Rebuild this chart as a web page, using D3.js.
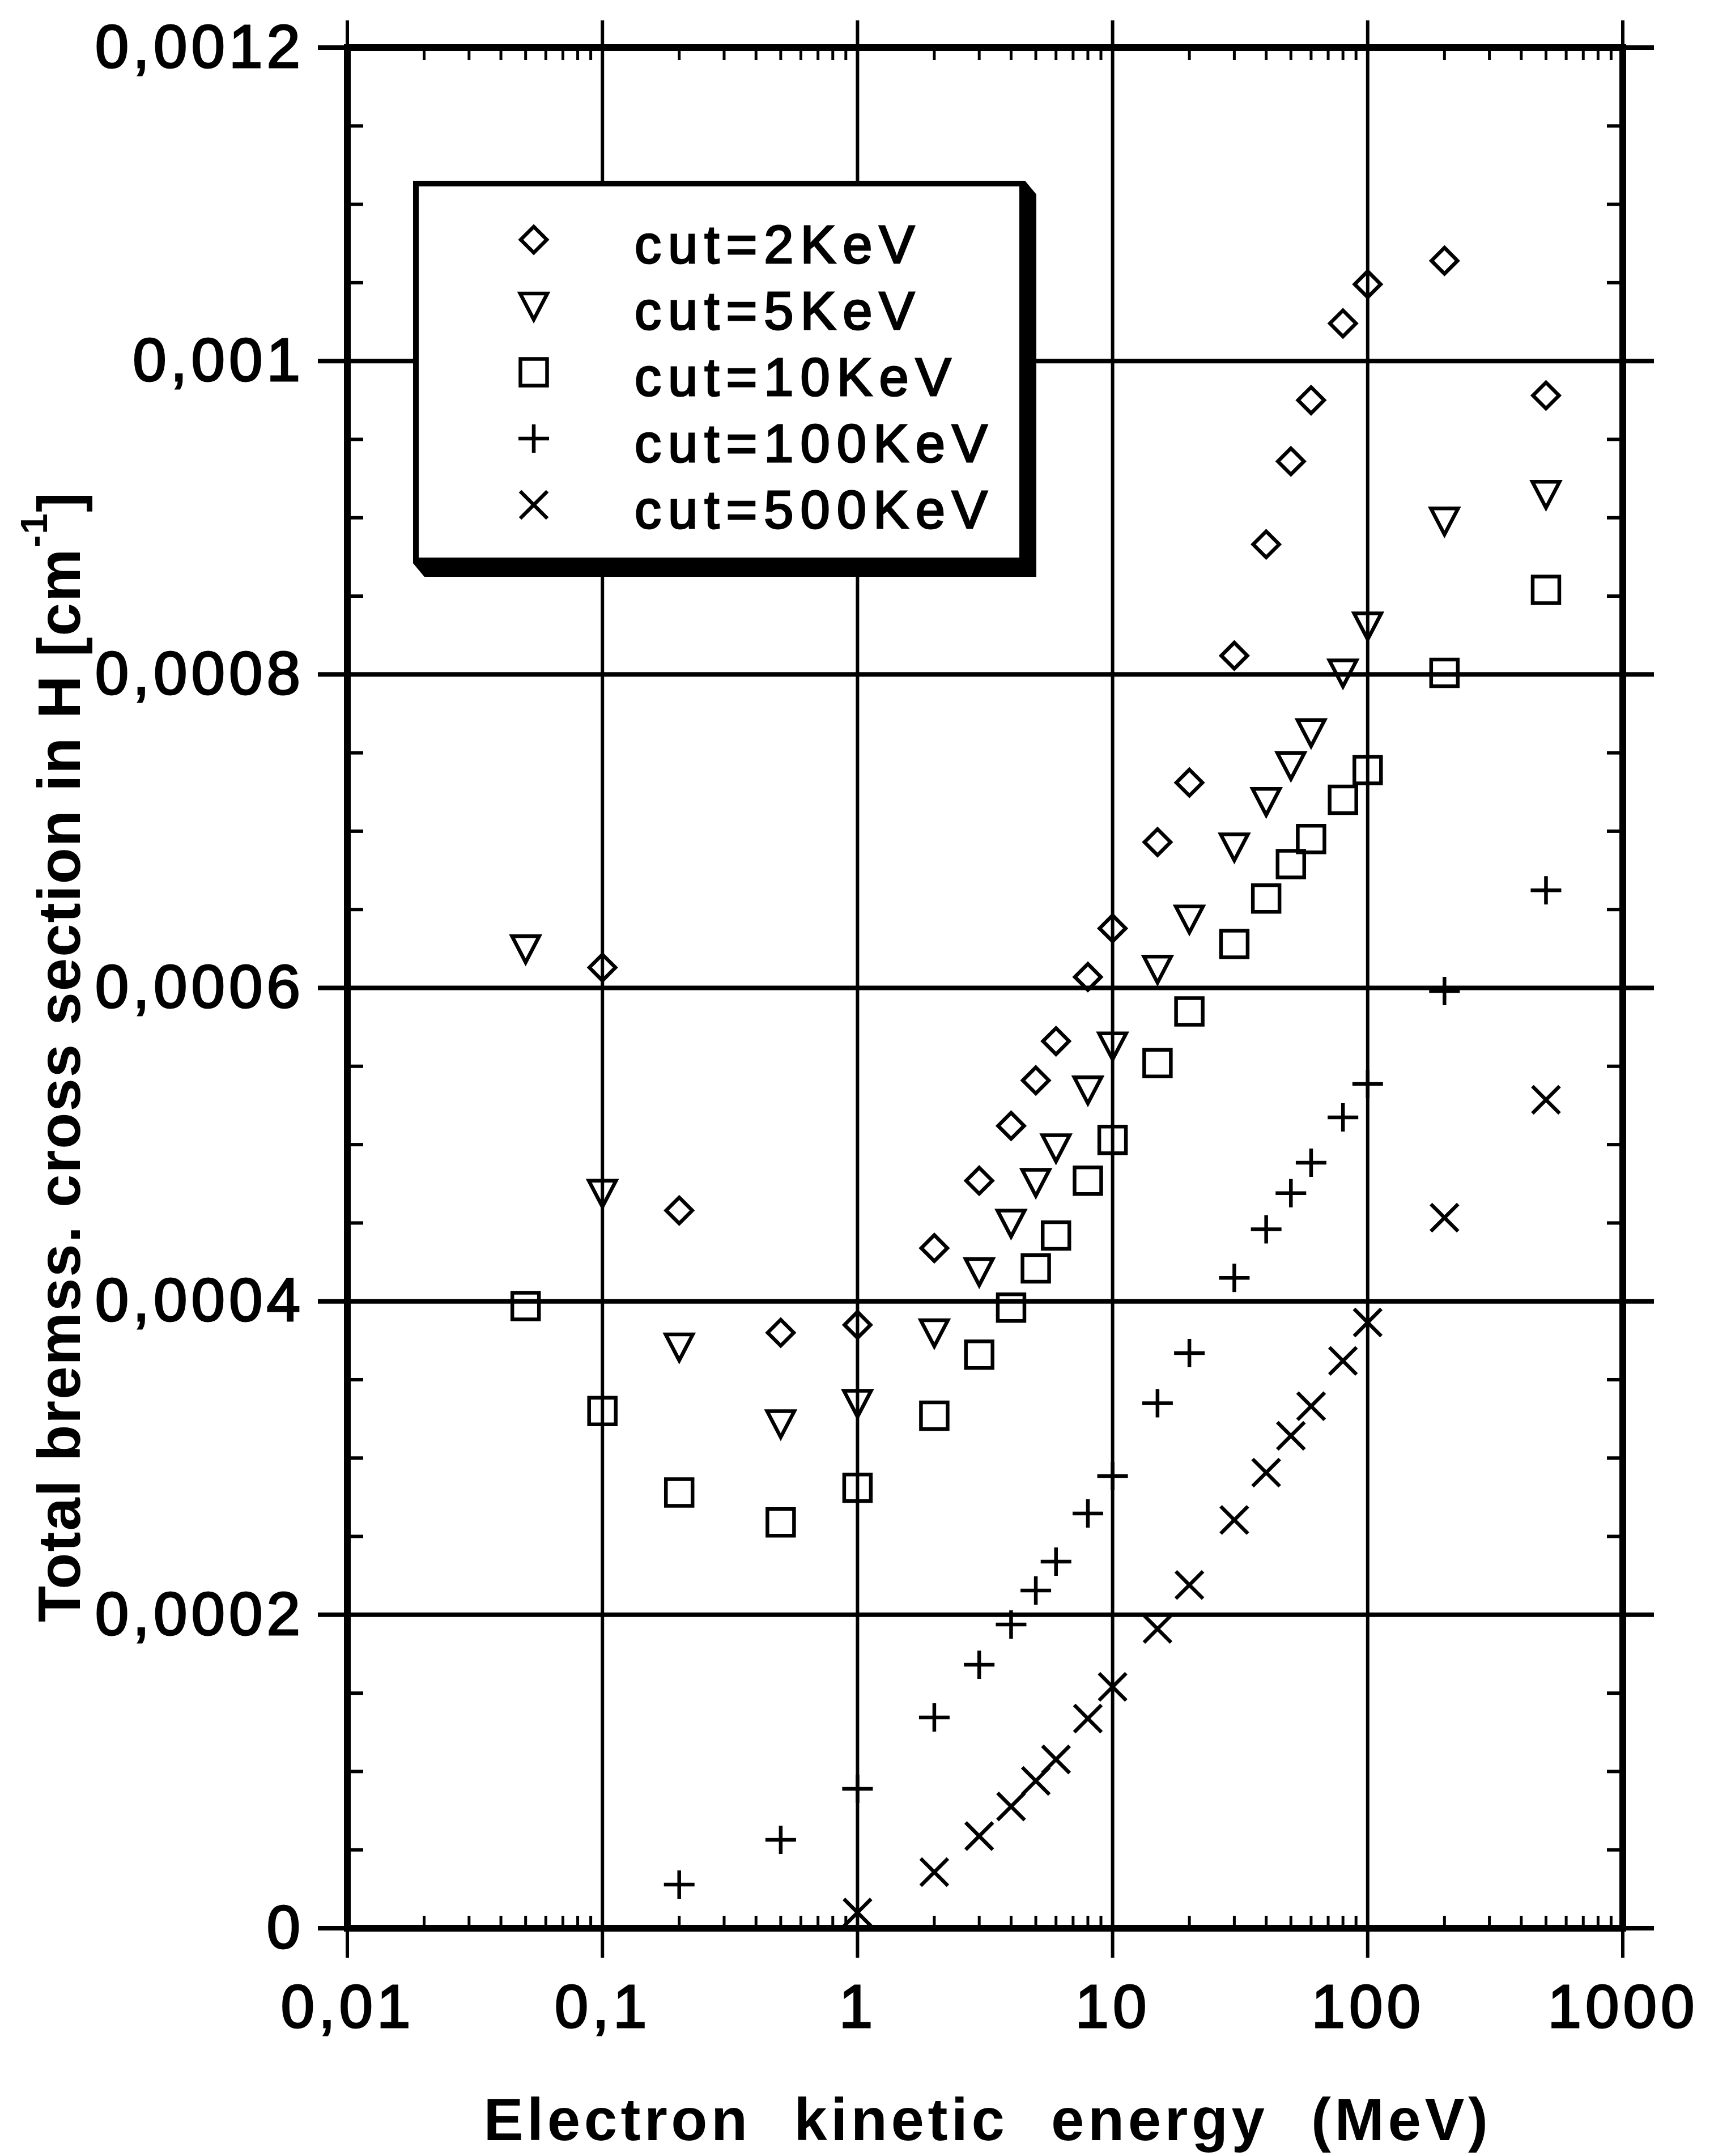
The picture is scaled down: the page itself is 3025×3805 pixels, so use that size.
<!DOCTYPE html>
<html>
<head>
<meta charset="utf-8">
<script src="https://cdn.jsdelivr.net/npm/d3@7"></script>
<style>
  body { margin: 0; background: #fff; }
  text { font-family: "Liberation Sans", Arial, Helvetica, sans-serif; fill: #000; }
</style>
</head>
<body>
<svg></svg>
<script>
// Electron kinetic energies (MeV) at which the cross sections were computed
const energies = [0.05, 0.1, 0.2, 0.5, 1, 2, 3, 4, 5, 6, 8, 10, 15, 20, 30, 40, 50, 60, 80, 100, 200, 500];

// Total bremsstrahlung cross section in H [cm^-1], one array per cut
const cut2Energy = energies.slice(1);
const cut2Values = [0.000613, 0.000458, 0.000380, 0.000385, 0.000434, 0.000477, 0.000512, 0.000541, 0.000566, 0.000607,
  0.000638, 0.000693, 0.000731, 0.000812, 0.000883, 0.000936, 0.000975, 0.001024, 0.001049, 0.001064, 0.000978];

const cut5Energy = energies;
const cut5Values = [0.000625, 0.000469, 0.000371, 0.000322, 0.000335, 0.000380, 0.000419, 0.000450, 0.000476, 0.000498, 0.000535,
  0.000563, 0.000612, 0.000644, 0.000690, 0.000719, 0.000742, 0.000763, 0.000801, 0.000831, 0.000898, 0.000915];

const cut10Energy = energies;
const cut10Values = [0.000397, 0.000330, 0.000278, 0.000259, 0.000281, 0.000327, 0.000366, 0.000396, 0.000421, 0.000442, 0.000477,
  0.000503, 0.000552, 0.000585, 0.000628, 0.000657, 0.000679, 0.000695, 0.000720, 0.000739, 0.000801, 0.000854];

const cut100Energy = energies.slice(2);
const cut100Values = [0.0000278, 0.0000564, 0.0000889, 0.0001345, 0.0001681, 0.0001938, 0.0002155, 0.0002339, 0.0002647, 0.0002885,
  0.000335, 0.000367, 0.000415, 0.000446, 0.000469, 0.0004885, 0.0005174, 0.0005387, 0.000598, 0.0006623];

const cut500Energy = energies.slice(4);
const cut500Values = [0.0000100, 0.0000358, 0.0000588, 0.0000777, 0.0000940, 0.0001077, 0.0001338, 0.000154, 0.000191, 0.000219,
  0.0002605, 0.0002907, 0.0003142, 0.0003331, 0.000362, 0.0003865, 0.0004534, 0.0005286];

// Legend names and marker shapes
const seriesNames = ["cut=2KeV", "cut=5KeV", "cut=10KeV", "cut=100KeV", "cut=500KeV"];
const seriesShapes = ["diamond", "triangle", "square", "plus", "cross"];
const seriesEnergy = [cut2Energy, cut5Energy, cut10Energy, cut100Energy, cut500Energy];
const seriesValues = [cut2Values, cut5Values, cut10Values, cut100Values, cut500Values];

// Axis ticks
const xTickValues = [0.01, 0.1, 1, 10, 100, 1000];
const xTickLabels = ["0,01", "0,1", "1", "10", "100", "1000"];
const yTickValues = [0, 0.0002, 0.0004, 0.0006, 0.0008, 0.001, 0.0012];
const yTickLabels = ["0", "0,0002", "0,0004", "0,0006", "0,0008", "0,001", "0,0012"];

// SVG dimensions
const width = 3025;
const height = 3805;
const plotLeft = 613, plotRight = 2864, plotTop = 84, plotBottom = 3403;

const xScale = d3.scaleLog().domain([0.01, 1000]).range([plotLeft, plotRight]);
const yScale = d3.scaleLinear().domain([0, 0.0012]).range([plotBottom, plotTop]);

const svg = d3.select("svg")
  .attr("width", width)
  .attr("height", height)
  .attr("viewBox", [0, 0, width, height]);

// Minor ticks: log 2..9 on x, every 0.00005 on y
const xMinor = [];
for (let p = -2; p < 3; p++) {
  for (let k = 2; k < 10; k++) xMinor.push(k * Math.pow(10, p));
}
const yMinor = d3.range(0, 24).map(i => i * 0.00005).filter((v, i) => i % 4 !== 0);

const grid = svg.append("g").attr("stroke", "#000").attr("fill", "none");

// Horizontal grid lines, running a bit beyond the frame
grid.selectAll(".hgrid")
  .data(yTickValues)
  .enter()
  .append("line")
  .attr("x1", plotLeft - 52)
  .attr("x2", plotRight + 55)
  .attr("y1", d => yScale(d))
  .attr("y2", d => yScale(d))
  .attr("stroke-width", 8);

// Vertical grid lines at each decade
grid.selectAll(".vgrid")
  .data(xTickValues)
  .enter()
  .append("line")
  .attr("x1", d => xScale(d))
  .attr("x2", d => xScale(d))
  .attr("y1", plotTop - 48)
  .attr("y2", plotBottom + 52)
  .attr("stroke-width", 6);

// Minor ticks pointing inward on all four sides
grid.selectAll(".xminB")
  .data(xMinor)
  .enter()
  .append("line")
  .attr("x1", d => xScale(d)).attr("x2", d => xScale(d))
  .attr("y1", plotBottom).attr("y2", plotBottom - 22)
  .attr("stroke-width", 5);

grid.selectAll(".xminT")
  .data(xMinor)
  .enter()
  .append("line")
  .attr("x1", d => xScale(d)).attr("x2", d => xScale(d))
  .attr("y1", plotTop).attr("y2", plotTop + 22)
  .attr("stroke-width", 5);

grid.selectAll(".yminL")
  .data(yMinor)
  .enter()
  .append("line")
  .attr("x1", plotLeft).attr("x2", plotLeft + 28)
  .attr("y1", d => yScale(d)).attr("y2", d => yScale(d))
  .attr("stroke-width", 6);

grid.selectAll(".yminR")
  .data(yMinor)
  .enter()
  .append("line")
  .attr("x1", plotRight).attr("x2", plotRight - 28)
  .attr("y1", d => yScale(d)).attr("y2", d => yScale(d))
  .attr("stroke-width", 6);

// Frame
svg.append("rect")
  .attr("x", plotLeft).attr("y", plotTop)
  .attr("width", plotRight - plotLeft).attr("height", plotBottom - plotTop)
  .attr("fill", "none")
  .attr("stroke", "#000")
  .attr("stroke-width", 12);

// Axes (labels only; lines are drawn above)
const xAxis = d3.axisBottom(xScale)
  .tickValues(xTickValues)
  .tickFormat((d, i) => xTickLabels[i])
  .tickSize(52)
  .tickPadding(47);

const yAxis = d3.axisLeft(yScale)
  .tickValues(yTickValues)
  .tickFormat((d, i) => yTickLabels[i])
  .tickSize(52)
  .tickPadding(24);

const gx = svg.append("g")
  .attr("transform", "translate(0," + plotBottom + ")")
  .call(xAxis);

const gy = svg.append("g")
  .attr("transform", "translate(" + plotLeft + ",0)")
  .call(yAxis);

[gx, gy].forEach(g => {
  g.select(".domain").remove();
  g.selectAll(".tick line").remove();
  g.selectAll("text")
    .attr("font-family", "'Liberation Sans', Arial, Helvetica, sans-serif")
    .attr("font-size", 107)
    .attr("letter-spacing", 7)
    .attr("fill", "#000")
    .attr("stroke", "#000")
    .attr("stroke-width", 3);
});

// Marker shapes
function markerPath(shape) {
  switch (shape) {
    case "diamond": return "M0,-23L23,0L0,23L-23,0Z";
    case "triangle": return "M-24,-22L24,-22L0,24Z";
    case "square": return "M-23.5,-23.5H23.5V23.5H-23.5Z";
    case "plus": return "M-27,0H27M0,-25V25";
    case "cross": return "M-24,-24L24,24M-24,24L24,-24";
  }
}

const points = svg.append("g");
seriesNames.forEach((name, s) => {
  const data = seriesEnergy[s].map((e, i) => [e, seriesValues[s][i]]);
  points.selectAll(".p" + s)
    .data(data)
    .enter()
    .append("path")
    .attr("class", "p" + s)
    .attr("transform", d => "translate(" + xScale(d[0]) + "," + yScale(d[1]) + ")")
    .attr("d", markerPath(seriesShapes[s]))
    .attr("fill", "none")
    .attr("stroke", "#000")
    .attr("stroke-width", 6.5)
    .attr("stroke-linejoin", "miter");
});

// Legend with drop shadow
const lx0 = 729, ly0 = 319, lx1 = 1809, ly1 = 994, sdx = 20, sdy = 24;
const legend = svg.append("g");
legend.append("polygon")
  .attr("points", [[lx1, ly0], [lx1 + sdx, ly0 + sdy], [lx1 + sdx, ly1 + sdy], [lx0 + sdx, ly1 + sdy], [lx0, ly1]].join(" "))
  .attr("fill", "#000");
legend.append("rect")
  .attr("x", lx0 + 5).attr("y", ly0 + 5)
  .attr("width", lx1 - lx0 - 10).attr("height", ly1 - ly0 - 10)
  .attr("fill", "#fff")
  .attr("stroke", "#000")
  .attr("stroke-width", 10);

const rows = legend.selectAll(".row")
  .data(seriesNames)
  .enter()
  .append("g")
  .attr("class", "row")
  .attr("transform", (d, i) => "translate(0," + (423 + i * 117) + ")");

rows.append("path")
  .attr("transform", "translate(942,0)")
  .attr("d", (d, i) => markerPath(seriesShapes[i]))
  .attr("fill", "none")
  .attr("stroke", "#000")
  .attr("stroke-width", 6.5);

rows.append("text")
  .attr("x", 1120)
  .attr("y", 41)
  .attr("font-size", 94)
  .attr("letter-spacing", 12)
  .attr("stroke", "#000")
  .attr("stroke-width", 3)
  .text(d => d);

// Axis titles
svg.append("text")
  .attr("x", 1743)
  .attr("y", 3777)
  .attr("text-anchor", "middle")
  .attr("font-size", 105)
  .attr("font-weight", "bold")
  .attr("letter-spacing", 6.5)
  .attr("word-spacing", 40)
  .text("Electron kinetic energy (MeV)");

const yTitle = svg.append("text")
  .attr("transform", "translate(141,1865) rotate(-90)")
  .attr("text-anchor", "middle")
  .attr("font-size", 105)
  .attr("font-weight", "bold")
  .attr("letter-spacing", 2);
yTitle.append("tspan").text("Total bremss. cross section in H [cm");
yTitle.append("tspan").attr("font-size", 66).attr("dy", -58).text("-1");
yTitle.append("tspan").attr("dy", 58).text("]");
</script>
</body>
</html>
